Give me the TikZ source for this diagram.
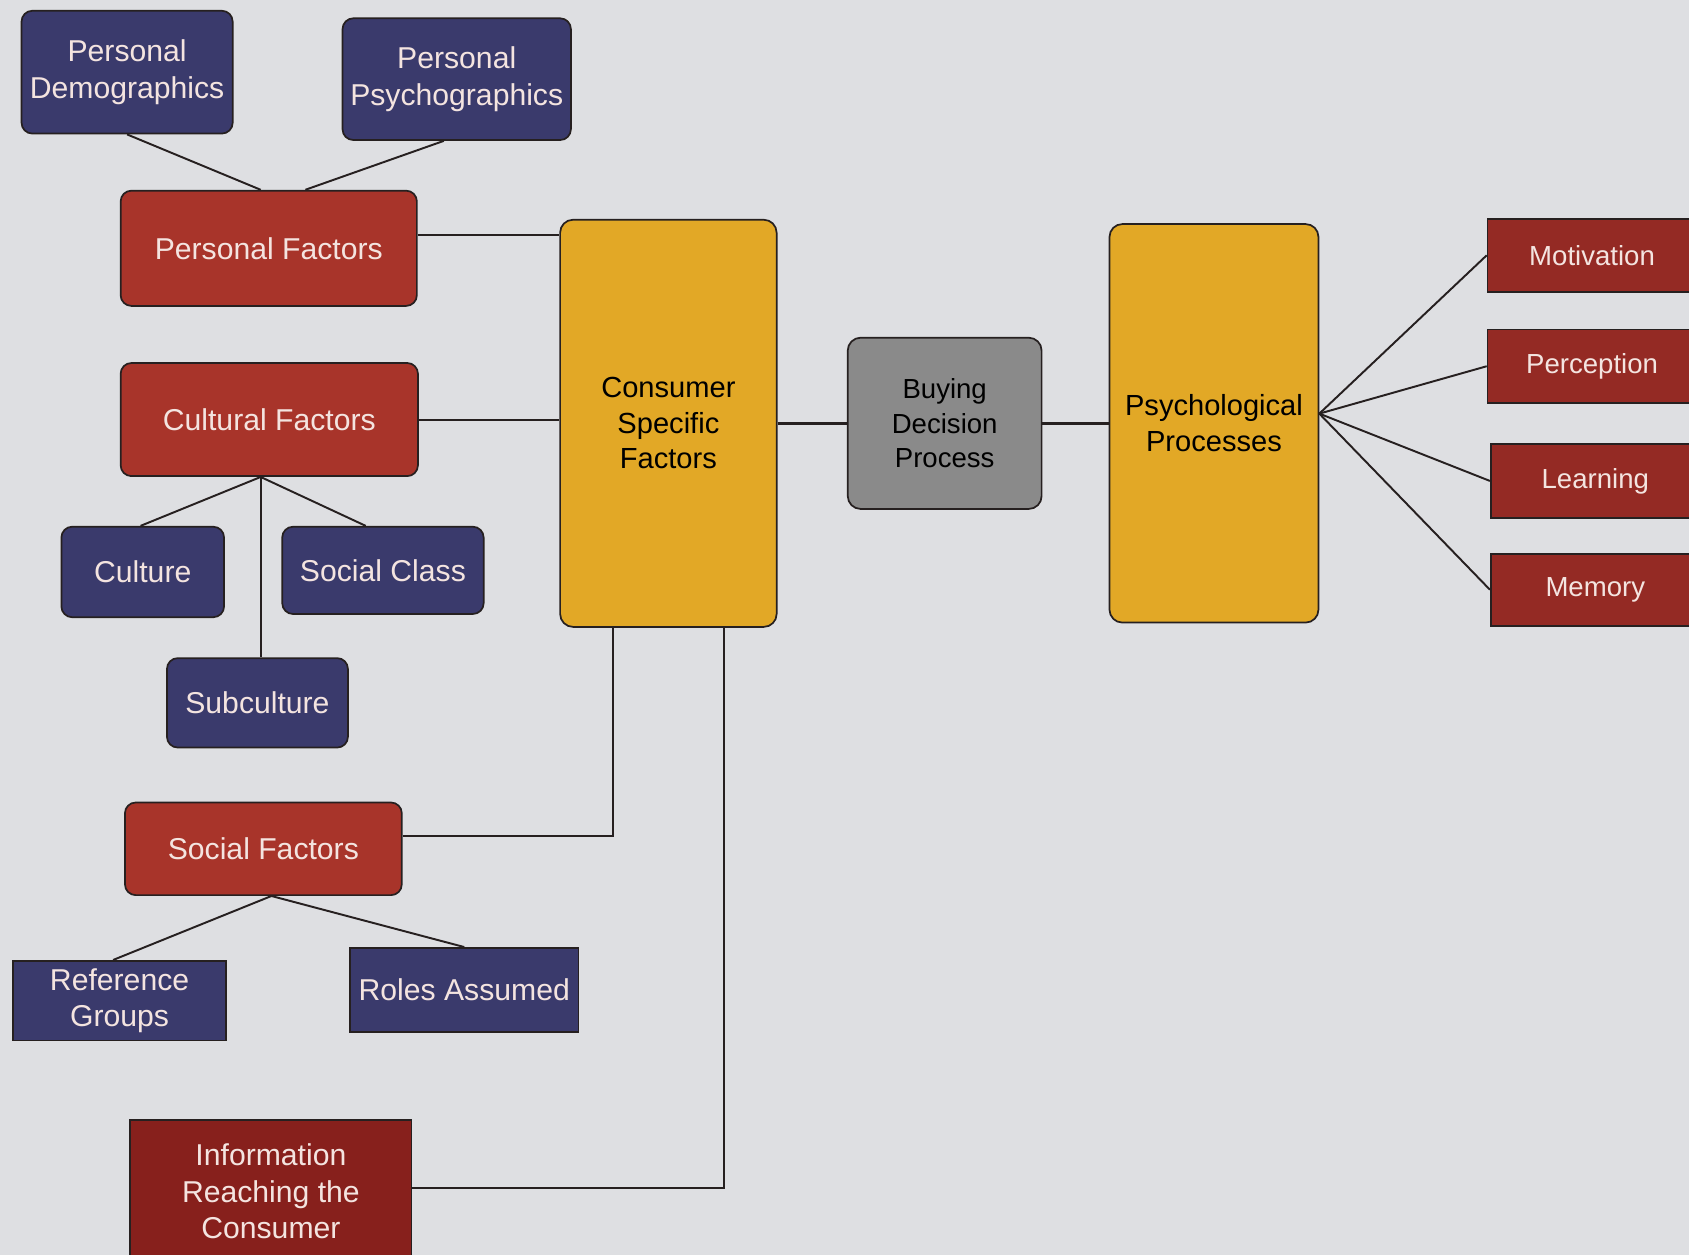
\documentclass[tikz,border=0pt]{standalone}
\usepackage{xcolor}
\usepackage{fontspec}
\setmainfont{Liberation Sans}
\usepackage{tikz}

\definecolor{paper}{RGB}{222,223,226}
\definecolor{edge}{RGB}{38,32,32}
\definecolor{navy}{RGB}{58,58,108}
\definecolor{brick}{RGB}{168,52,42}
\definecolor{darkbrick}{RGB}{135,32,28}
\definecolor{rustred}{RGB}{148,42,36}
\definecolor{mustard}{RGB}{226,168,38}
\definecolor{stone}{RGB}{138,138,138}
\definecolor{lighttext}{RGB}{244,228,224}

\tikzset{
  boxbase/.style={draw=edge, line width=0.8pt, align=center, inner sep=0pt,
    font=\fontsize{14}{17}\selectfont},
  navybox/.style={boxbase, fill=navy, text=lighttext, rounded corners=5pt},
  navyflat/.style={boxbase, fill=navy, text=lighttext},
  factorbox/.style={boxbase, fill=brick, text=lighttext, rounded corners=5pt},
  infobox/.style={boxbase, fill=darkbrick, text=lighttext},
  processbox/.style={boxbase, fill=rustred, text=lighttext,
    font=\fontsize{12.8}{16}\selectfont},
  corebox/.style={boxbase, fill=mustard, text=black, rounded corners=6pt,
    font=\fontsize{13.5}{16.5}\selectfont},
  decisionbox/.style={boxbase, fill=stone, text=black, rounded corners=6pt,
    font=\fontsize{12.8}{16}\selectfont},
  link/.style={draw=edge, line width=0.9pt},
  thicklink/.style={draw=edge, line width=1.5pt}
}

\begin{document}
\begin{tikzpicture}[x=0.5pt, y=-0.5pt]
  \fill[paper] (0,0) rectangle (1568,1165);
  \useasboundingbox (0,0) rectangle (1568,1165);

  \node[navybox, minimum width=98pt, minimum height=57pt] (pd) at (118,67) {Personal\\Demographics};
  \node[navybox, minimum width=106pt, minimum height=56.5pt] (pp) at (424,73.5) {Personal\\Psychographics};
  \node[factorbox, minimum width=137.5pt, minimum height=53.5pt] (pf) at (249.5,230.5) {Personal Factors};

  \node[factorbox, minimum width=138pt, minimum height=52.5pt] (cf) at (250,389.5) {Cultural Factors};
  \node[navybox, minimum width=75.5pt, minimum height=42pt] (cu) at (132.5,531) {Culture};
  \node[navybox, minimum width=93.5pt, minimum height=40.5pt] (sc) at (355.5,529.5) {Social Class};
  \node[navybox, minimum width=84pt, minimum height=41.5pt] (sub) at (239,652.5) {Subculture};

  \node[factorbox, minimum width=128.5pt, minimum height=43pt] (sf) at (244.5,788) {Social Factors};
  \node[navyflat, minimum width=99pt, minimum height=37pt] (rg) at (111,929) {Reference\\Groups};
  \node[navyflat, minimum width=106pt, minimum height=39pt] (ra) at (431,919) {Roles Assumed};

  \node[infobox, minimum width=130.5pt, minimum height=66pt] (info) at (251.5,1106) {Information\\Reaching the\\Consumer};

  \node[corebox, minimum width=100.5pt, minimum height=189pt] (csf) at (620.5,393) {Consumer\\Specific\\Factors};
  \node[decisionbox, minimum width=90pt, minimum height=79.5pt] (bdp) at (877,393) {Buying\\Decision\\Process};
  \node[corebox, minimum width=97pt, minimum height=185pt] (psy) at (1127,393) {Psychological\\Processes};

  \node[processbox, minimum width=97pt, minimum height=34pt] (mot) at (1478,237) {Motivation};
  \node[processbox, minimum width=97pt, minimum height=34pt] (per) at (1478,340) {Perception};
  \node[processbox, minimum width=97pt, minimum height=34.5pt] (lea) at (1481,446.5) {Learning};
  \node[processbox, minimum width=97pt, minimum height=33.5pt] (mem) at (1481,547.5) {Memory};

  \draw[link] (pd.south) -- ([xshift=-3.75pt]pf.north);
  \draw[link] ([xshift=-6pt]pp.south) -- ([xshift=17pt]pf.north);
  \draw[link] ([yshift=6pt]pf.east) -- ([yshift=6pt]pf.east -| csf.west);
  \draw[link] (cf.east) -- (cf.east -| csf.west);

  \coordinate (cfjoin) at ([xshift=-4pt]cf.south);
  \draw[link] (cfjoin) -- ([xshift=-1pt]cu.north);
  \draw[link] (cfjoin) -- ([xshift=-8pt]sc.north);
  \draw[link] (cfjoin) -- (cfjoin |- sub.north);

  \draw[link] ([yshift=6pt]sf.east) -| ([xshift=-25.75pt]csf.south);
  \draw[link] ([xshift=3.75pt]sf.south) -- ([xshift=-3pt]rg.north);
  \draw[link] ([xshift=3.75pt]sf.south) -- (ra.north);
  \draw[link] ([yshift=1.5pt]info.east) -| ([xshift=25.75pt]csf.south);

  \draw[thicklink] (csf.east) -- (bdp.west);
  \draw[thicklink] (bdp.east) -- (psy.west);
  \foreach \p in {mot,per,lea,mem}
    \draw[link] ([yshift=4.5pt]psy.east) -- (\p.west);
\end{tikzpicture}
\end{document}
